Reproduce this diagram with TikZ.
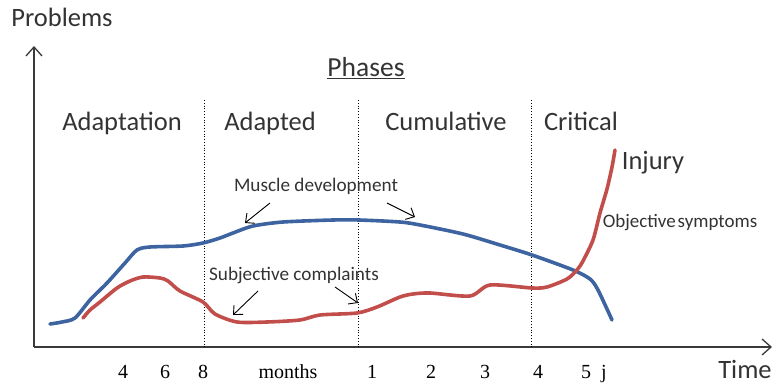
\documentclass[tikz,border=0pt]{standalone}
\usepackage{fontspec}
\setmainfont{Carlito}
\newfontfamily\timesf{Liberation Serif}
\usetikzlibrary{arrows.meta}
\definecolor{bluec}{HTML}{3D64A0}
\definecolor{redc}{HTML}{C24E4C}
\definecolor{axisc}{HTML}{3A3A3A}
\definecolor{textc}{HTML}{333333}
\begin{document}
\begin{tikzpicture}[x=1pt,y=-1pt,
  axis/.style={draw=axisc, line width=1.6pt, -{Straight Barb[length=9pt,width=16pt,line width=1.3pt]}},
  big/.style={font=\fontsize{26.5}{30}\selectfont, text=textc, anchor=base, inner sep=0pt},
  small/.style={font=\fontsize{19.2}{23}\selectfont, text=textc, anchor=base, inner sep=0pt},
  tick/.style={font=\timesf\fontsize{20}{24}\selectfont, text=black, anchor=base, inner sep=0pt},
  divider/.style={draw=black, dotted, line width=0.8pt},
  curveb/.style={draw=bluec, line width=3.6pt, line cap=round, line join=round},
  curver/.style={draw=redc, line width=3.6pt, line cap=round, line join=round},
  pointer/.style={draw=black, line width=0.9pt, -{Straight Barb[length=7pt,width=13pt]}}
]
\useasboundingbox (0,0) rectangle (774,385);

% axes
\coordinate (origin) at (34,347);
\coordinate (ytop) at (34,46);
\coordinate (xend) at (772,347);
\draw[axis] (origin) -- (ytop);
\draw[axis] (origin) -- (xend);

% axis labels
\node[big] (problems) at (62,27) {Problems};
\node[big] (time) at (745,378) {Time};
\node[big, font=\fontsize{27.5}{31}\selectfont] (phases) at (366,77) {\underline{Phases}};

% phase dividers
\coordinate (d1t) at (204.5,100); \coordinate (d1b) at (204.5,347);
\coordinate (d2t) at (358.7,100); \coordinate (d2b) at (358.7,347);
\coordinate (d3t) at (531.7,100); \coordinate (d3b) at (531.7,347);
\draw[divider] (d1t) -- (d1b);
\draw[divider] (d2t) -- (d2b);
\draw[divider] (d3t) -- (d3b);

% phase labels
\node[big] (adaptation) at (122,131) {Adaptation};
\node[big] (adapted) at (270,131) {Adapted};
\node[big] (cumulative) at (446,131) {Cumulative};
\node[big] (critical) at (581,131) {Critical};

% curves
\draw[curveb] plot[smooth, tension=0.45] coordinates {
 (50,324) (62,322) (75,318) (90,300) (107,283) (125,263) (137,250) (150,247)
 (183,246) (203,243) (220,238) (233,233) (253,226) (283,222) (333,220) (359,220)
 (400,222) (420,225) (463,234) (500,245) (532,255) (573,270) (590,279) (598,290) (612,320)};
\draw[curver] plot[smooth, tension=0.45] coordinates {
 (83,318) (90,310) (100,302) (117,288) (130,281) (143,277) (160,278) (168,281)
 (180,291) (203,302) (215,314) (237,322) (267,322) (300,320) (320,315) (357,313)
 (377,307) (400,297) (413,294) (430,293) (470,296) (490,285) (532,288) (547,287)
 (567,279) (577,270) (583,261) (593,240) (600,213) (607,189) (612,167) (615,150)};

% curve labels
\node[big] (injury) at (653,169) {Injury};
\node[small] (muscle) at (316,192) {Muscle development};
\node[small] (subjective) at (294,280) {Subjective complaints};
\node[small, font=\fontsize{19}{22}\selectfont] (objective) at (680,227) {Objective\hspace{0.1em}symptoms};

% pointers
\coordinate (m1t) at (270,203); \coordinate (m1h) at (245,223);
\coordinate (m2t) at (387,203); \coordinate (m2h) at (415,217);
\coordinate (s1t) at (258,291); \coordinate (s1h) at (233,315);
\coordinate (s2t) at (335,287); \coordinate (s2h) at (358,303);
\draw[pointer] (m1t) -- (m1h);
\draw[pointer] (m2t) -- (m2h);
\draw[pointer] (s1t) -- (s1h);
\draw[pointer] (s2t) -- (s2h);

% tick labels
\node[tick] (t4) at (123,378) {4};
\node[tick] (t6) at (165,378) {6};
\node[tick] (t8) at (203,378) {8};
\node[tick] (tmonths) at (288,378) {months};
\node[tick] (t1) at (372,378) {1};
\node[tick] (t2) at (431,378) {2};
\node[tick] (t3) at (485,378) {3};
\node[tick] (t4b) at (538,378) {4};
\node[tick] (t5) at (586,378) {5};
\node[tick] (tj) at (604,378) {j};
\end{tikzpicture}
\end{document}
